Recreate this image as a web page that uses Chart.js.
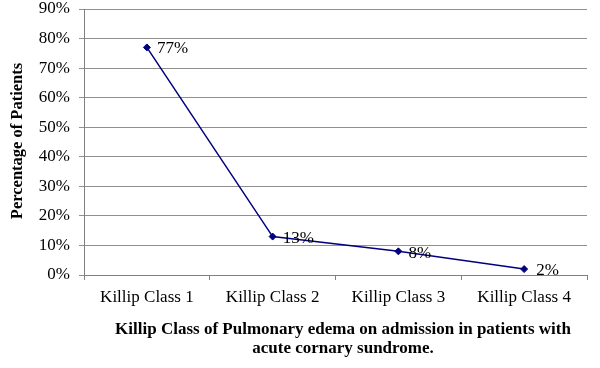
<!DOCTYPE html>
<html><head><meta charset="utf-8">
<script src="https://cdn.jsdelivr.net/npm/chart.js@4/dist/chart.umd.min.js"></script>
<style>html,body{margin:0;padding:0;background:#fff}#wrap{width:600px;height:368px}</style>
</head><body><div id="wrap"><canvas id="c" width="600" height="368"></canvas></div>
<script>
const categories = ["Killip Class 1", "Killip Class 2", "Killip Class 3", "Killip Class 4"];
const percentages = [77, 13, 8, 2];
const valueLabels = ["77%", "13%", "8%", "2%"];
const yTitle = "Percentage of Patients";
const xTitleLines = ["Killip Class of Pulmonary edema on admission in patients with", "acute cornary sundrome."];

const serif = '"Liberation Serif", "Times New Roman", serif';

const annot = {
  id: 'annot',
  afterDatasetsDraw(chart) {
    const ctx = chart.ctx;
    const meta = chart.getDatasetMeta(0);
    ctx.save();
    ctx.fillStyle = '#000';
    ctx.font = '17px ' + serif;
    ctx.textAlign = 'left';
    ctx.textBaseline = 'middle';
    const dx = [10, 10, 10, 12];
    const dy = [1, 2, 2, 1];
    meta.data.forEach((p, i) => {
      ctx.fillText(valueLabels[i], p.x + dx[i], p.y + dy[i]);
    });
    ctx.restore();
  },
  afterDraw(chart) {
    const ctx = chart.ctx;
    ctx.save();
    ctx.fillStyle = '#000';
    ctx.font = 'bold 17px ' + serif;
    ctx.textAlign = 'center';
    ctx.textBaseline = 'middle';
    ctx.fillText(xTitleLines[0], 343, 330);
    ctx.fillText(xTitleLines[1], 343, 349);
    ctx.font = 'bold 16.5px ' + serif;
    ctx.translate(18, 141);
    ctx.rotate(-Math.PI / 2);
    ctx.fillText(yTitle, 0, 0);
    ctx.restore();
  }
};

new Chart(document.getElementById('c'), {
  type: 'line',
  data: {
    labels: categories,
    datasets: [{
      data: percentages,
      borderColor: '#000080',
      backgroundColor: '#000080',
      borderWidth: 1.5,
      pointStyle: 'rectRot',
      pointRadius: 3.5,
      pointBorderWidth: 1,
      tension: 0
    }]
  },
  options: {
    responsive: false,
    animation: false,
    layout: { padding: { left: 0, right: 13, top: 9, bottom: 0 } },
    plugins: { legend: { display: false }, tooltip: { enabled: false } },
    scales: {
      x: {
        offset: true,
        grid: { offset: true, drawOnChartArea: false, drawTicks: true, tickLength: 5, color: '#808080' },
        border: { color: '#808080' },
        ticks: { color: '#000', font: { family: serif, size: 17 }, padding: 7, maxRotation: 0 },
        afterFit(s) { s.height = 93; s.paddingLeft = 0; s.paddingRight = 0; }
      },
      y: {
        min: 0, max: 90,
        grid: { color: '#909090', tickLength: 5 },
        border: { color: '#808080' },
        ticks: { stepSize: 10, color: '#000', font: { family: serif, size: 17 }, padding: 9,
          callback: v => v + '%' },
        afterFit(s) { s.width = 84; s.paddingTop = 0; s.paddingBottom = 0; }
      }
    }
  },
  plugins: [annot]
});
</script>
</body></html>
